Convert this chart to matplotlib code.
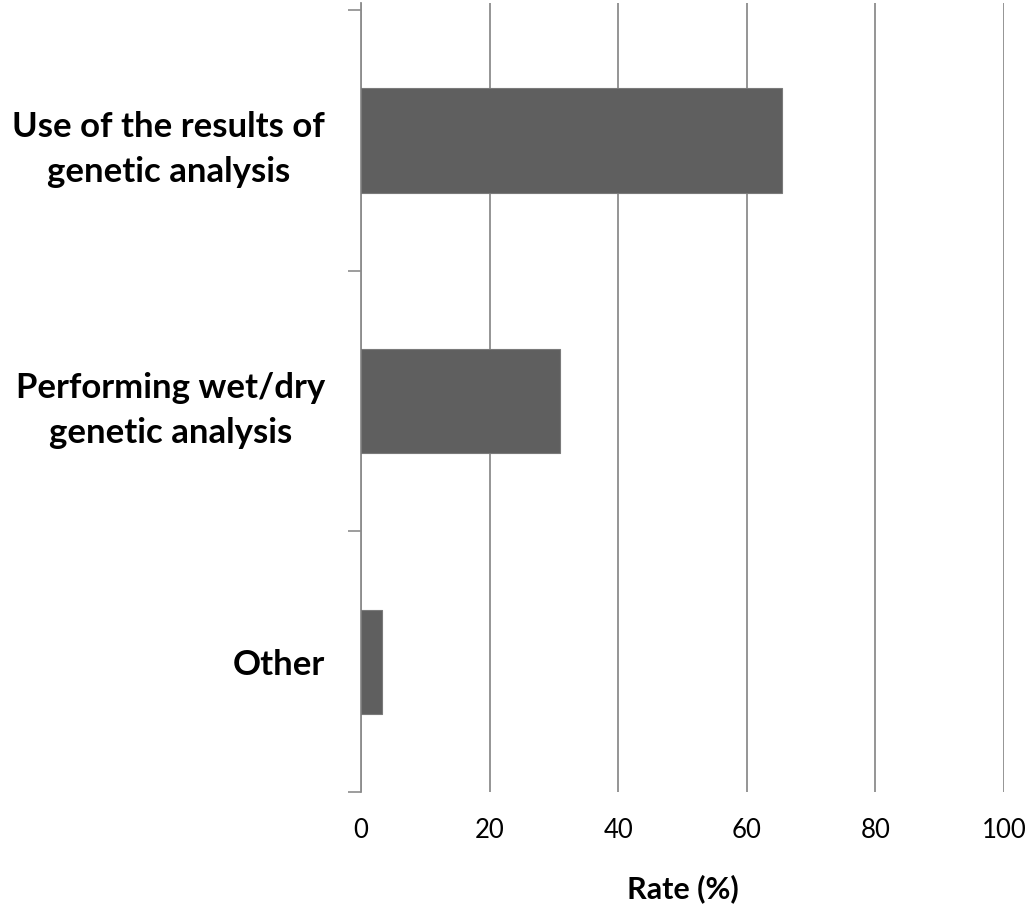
import matplotlib.pyplot as plt
import matplotlib

matplotlib.rcParams['font.family'] = ['Lato', 'DejaVu Sans']

# data (top to bottom in the chart)
categories = ['Use of the results of\ngenetic analysis',
              'Performing wet/dry\ngenetic analysis',
              'Other']
rates = [65.5, 31.0, 3.3]
xticks = [0, 20, 40, 60, 80, 100]

fig = plt.figure(figsize=(10.30, 9.18), dpi=100)
ax = fig.add_axes([0.3505, 0.1373, 0.6243, 0.8594])

ypos = list(range(len(categories)))[::-1]
ax.barh(ypos, rates, height=0.4, color='#5f5f5f', edgecolor='#7a7a7a',
        linewidth=0.8, zorder=3)

ax.set_xlim(0, 100)
ax.set_ylim(-0.5, 2.527)
ax.set_xticks(xticks)
ax.set_xticklabels([str(v) for v in xticks], fontsize=18.5)
ax.tick_params(axis='x', length=0, pad=19)
ax.grid(axis='x', color='#8c8c8c', linewidth=1.3, zorder=0)

# category boundaries as ticks, labels centred between them
ax.set_yticks([-0.5, 0.5, 1.5, 2.5])
ax.set_yticklabels([])
ax.set_yticks(ypos, minor=True)
ax.set_yticklabels(categories, minor=True, fontsize=25, fontweight='bold',
                   multialignment='center', linespacing=1.5)
ax.tick_params(axis='y', which='major', length=9.5, width=1.2, color='#8c8c8c')
ax.tick_params(axis='y', which='minor', length=0, pad=26)

for s in ['top', 'right', 'bottom']:
    ax.spines[s].set_visible(False)
ax.spines['left'].set_color('#8c8c8c')
ax.spines['left'].set_linewidth(1.3)

ax.set_xlabel('Rate (%)', fontsize=22, fontweight='bold', labelpad=22)

fig.savefig('out.png', dpi=100)
